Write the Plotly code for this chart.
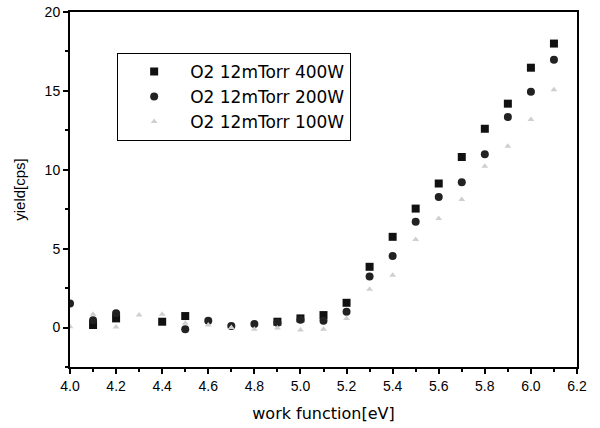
import plotly.graph_objects as go

work_function = [4.0, 4.1, 4.2, 4.3, 4.4, 4.5, 4.6, 4.7, 4.8, 4.9, 5.0,
                 5.1, 5.2, 5.3, 5.4, 5.5, 5.6, 5.7, 5.8, 5.9, 6.0, 6.1]
yield_400w = [None, 0.16, 0.58, None, 0.37, 0.73, None, None, None, 0.37, 0.58,
              0.79, 1.57, 3.85, 5.75, 7.54, 9.13, 10.81, 12.6, 14.19, 16.47, 18.0]
yield_200w = [1.53, 0.47, 0.9, None, None, -0.11, 0.43, 0.1, 0.22, 0.3, 0.5,
              0.43, 1.0, 3.24, 4.53, 6.7, 8.28, 9.21, 10.98, 13.34, 14.95, 16.97]
yield_100w = [0.05, 0.85, 0.03, 0.8, 0.85, 0.27, 0.16, 0.0, -0.1, -0.03, -0.16,
              -0.1, 0.58, 2.42, 3.32, 5.58, 6.91, 8.11, 10.22, 11.49, 13.18, 15.07]
series_names = ["O2 12mTorr 400W", "O2 12mTorr 200W", "O2 12mTorr 100W"]
x_ticks = [4.0, 4.2, 4.4, 4.6, 4.8, 5.0, 5.2, 5.4, 5.6, 5.8, 6.0, 6.2]
x_tick_labels = ["4.0", "4.2", "4.4", "4.6", "4.8", "5.0", "5.2", "5.4", "5.6", "5.8", "6.0", "6.2"]
y_ticks = [0, 5, 10, 15, 20]

fig = go.Figure()
fig.add_trace(go.Scatter(x=work_function, y=yield_400w, mode="markers", name=series_names[0],
                         marker=dict(symbol="square", size=8, color="#111111")))
fig.add_trace(go.Scatter(x=work_function, y=yield_200w, mode="markers", name=series_names[1],
                         marker=dict(symbol="circle", size=8, color="#222222")))
fig.add_trace(go.Scatter(x=work_function, y=yield_100w, mode="markers", name=series_names[2],
                         marker=dict(symbol="triangle-up", size=6, color="#cfcfcf")))

axis_common = dict(showline=True, linecolor="black", linewidth=2, mirror=True,
                   ticks="outside", ticklen=5, tickwidth=1.5, tickcolor="black",
                   showgrid=False, zeroline=False, automargin=False,
                   tickfont=dict(family="Liberation Sans", size=14, color="black"))

fig.update_xaxes(range=[4.0, 6.2], tickvals=x_ticks, ticktext=x_tick_labels,
                 minor=dict(dtick=0.1, ticks="outside", ticklen=3, tickcolor="black"),
                 title=dict(text="work function[eV]", font=dict(family="DejaVu Sans", size=16, color="black")),
                 **axis_common)
fig.update_yaxes(range=[-2.5, 20], tickvals=y_ticks,
                 minor=dict(dtick=2.5, ticks="outside", ticklen=3, tickcolor="black"),
                 title=dict(text="yield[cps]", font=dict(family="Liberation Sans", size=15, color="black")),
                 **axis_common)

fig.update_layout(
    width=600, height=428,
    margin=dict(l=70, r=23, t=12, b=61, autoexpand=False),
    plot_bgcolor="white", paper_bgcolor="white",
    showlegend=True,
    legend=dict(x=0.093, y=0.885, xanchor="left", yanchor="top",
                bordercolor="black", borderwidth=1, bgcolor="white",
                font=dict(family="DejaVu Sans", size=17, color="black"),
                itemwidth=62, tracegroupgap=0),
)

fig.write_html("out.html", config={"displayModeBar": False},
               post_script="document.body.style.margin='0';document.body.style.padding='0';")
